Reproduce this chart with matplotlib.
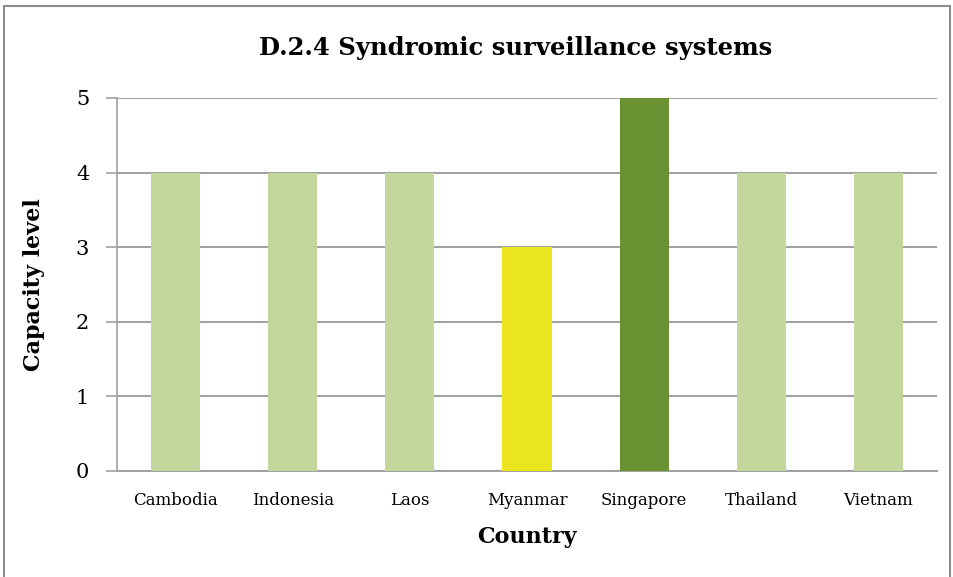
import matplotlib
matplotlib.use("Agg")
import matplotlib.pyplot as plt
from matplotlib.patches import Rectangle

countries = ["Cambodia", "Indonesia", "Laos", "Myanmar", "Singapore", "Thailand", "Vietnam"]
levels = [4, 4, 4, 3, 5, 4, 4]
bar_colors = ["#C3D69B", "#C3D69B", "#C3D69B", "#EAE51C", "#6A9232", "#C3D69B", "#C3D69B"]
yticks = [0, 1, 2, 3, 4, 5]

plt.rcParams["font.family"] = ["DejaVu Serif"]

fig = plt.figure(figsize=(9.54, 5.77), dpi=100)
ax = fig.add_axes([117/954, 1-471/577, (937-117)/954, (471-98)/577])

x = range(len(countries))
ax.bar(x, levels, width=0.42, color=bar_colors, zorder=3)
ax.set_xlim(-0.5, len(countries)-0.5)
ax.set_ylim(0, 5)
ax.set_yticks(yticks)
ax.set_xticks(list(x))
ax.set_xticklabels(countries, fontsize=12)
ax.tick_params(axis="x", length=0, pad=15)
ax.tick_params(axis="y", length=8, width=1.2, color="#A0A0A0", labelsize=15, pad=12)
ax.grid(axis="y", color="#A0A0A0", linewidth=1.4, zorder=1)
for s in ["top", "right"]:
    ax.spines[s].set_visible(False)
ax.spines["left"].set_color("#A0A0A0")
ax.spines["left"].set_linewidth(1.2)
ax.spines["bottom"].set_color("#A0A0A0")
ax.spines["bottom"].set_linewidth(1.4)

ax.set_xlabel("Country", fontsize=16, fontweight="bold", labelpad=12)
ax.set_ylabel("Capacity level", fontsize=16, fontweight="bold", labelpad=22)
fig.text(516/954, 1-48/577, "D.2.4 Syndromic surveillance systems", fontsize=17.5, fontweight="bold",
         ha="center", va="center")

fig.patches.append(Rectangle((4/954, -0.05), 946/954, 1.05-6/577, transform=fig.transFigure,
                             fill=False, edgecolor="#8C8C8C", linewidth=1.5))

fig.savefig("out.png", dpi=100)
